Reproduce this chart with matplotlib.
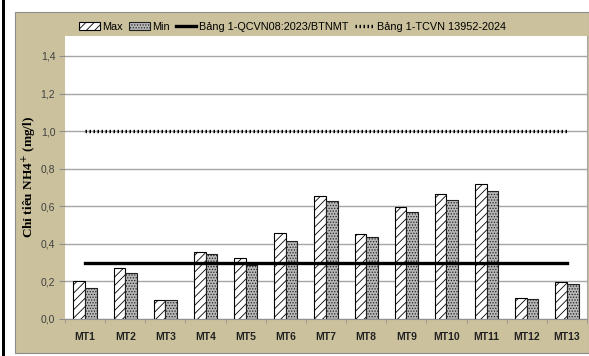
import numpy as np
import matplotlib.pyplot as plt
from matplotlib.patches import Rectangle
from matplotlib.lines import Line2D
from matplotlib.ticker import FuncFormatter

# số liệu NH4+ tại các điểm quan trắc
diem = ["MT1", "MT2", "MT3", "MT4", "MT5", "MT6", "MT7",
        "MT8", "MT9", "MT10", "MT11", "MT12", "MT13"]
gia_tri_max = [0.204, 0.270, 0.101, 0.354, 0.323, 0.455, 0.655,
               0.454, 0.596, 0.665, 0.717, 0.112, 0.199]
gia_tri_min = [0.167, 0.243, 0.101, 0.348, 0.288, 0.415, 0.628,
               0.438, 0.571, 0.632, 0.683, 0.106, 0.186]
qcvn08 = 0.3
tcvn13952 = 1.0

plt.rcParams['hatch.linewidth'] = 0.6
narrow = ['Liberation Sans Narrow', 'Liberation Sans', 'DejaVu Sans']

fig = plt.figure(figsize=(5.89, 3.56), dpi=100)

# nền và viền khung
fig.patches.append(Rectangle((15/589, 1 - 353/356), (589 - 15)/589, (353 - 12)/356,
                             transform=fig.transFigure, facecolor='#cbc29d',
                             edgecolor='#8c8c8c', lw=0.8, zorder=-10))
fig.patches.append(Rectangle((1.5/589, 0), 3.5/589, 1, transform=fig.transFigure,
                             facecolor='black', edgecolor='none', zorder=-10))

ax = fig.add_axes([65/589, 1 - 319/356, (587 - 65)/589, (319 - 36)/356])
ax.set_facecolor('white')

x = np.arange(len(diem))
w = 0.29
ax.bar(x - w/2, gia_tri_max, w, facecolor='white', edgecolor='black',
       hatch='////', lw=0.8, zorder=3)
ax.bar(x + w/2, gia_tri_min, w, facecolor='#b8b8b8', edgecolor='#202020',
       hatch='......', lw=0.8, zorder=3)
ax.plot(x, [qcvn08] * len(x), color='black', lw=2.4, zorder=4)
ax.plot(x, [tcvn13952] * len(x), color='black', lw=2.4, ls=(0, (0.45, 0.75)),
        dash_capstyle='butt', zorder=4)

ax.set_xlim(-0.5, len(diem) - 0.5)
ax.set_ylim(0, 1.506)
ax.set_yticks(np.arange(0, 1.41, 0.2))
ax.yaxis.set_major_formatter(FuncFormatter(lambda v, p: f"{v:.1f}".replace('.', ',')))
ax.grid(axis='y', color='#a6a6a6', lw=1.0, zorder=0)
ax.set_axisbelow(True)

ax.set_xticks(x)
ax.set_xticklabels(diem, fontsize=7.5, fontweight='bold', family=narrow, color='#222222')
ax.set_xticks(np.arange(-0.5, len(diem)), minor=True)
ax.tick_params(axis='x', which='major', length=0, pad=9)
ax.tick_params(axis='x', which='minor', length=3, color='#909090')
ax.tick_params(axis='y', length=4, color='#909090', labelsize=7.5,
               labelcolor='#404040', pad=3)
for lbl in ax.get_yticklabels():
    lbl.set_family(narrow)

for side in ['top', 'left']:
    ax.spines[side].set_visible(False)
ax.spines['bottom'].set_color('#909090')
ax.spines['right'].set_color('#a6a6a6')

ax.set_ylabel("Chỉ tiêu NH4$^{+}$ (mg/l)", family=['Liberation Serif', 'DejaVu Serif'],
              fontweight='bold', fontsize=9.5, labelpad=1)

handles = [
    Rectangle((0, 0), 1, 1, facecolor='white', edgecolor='black', hatch='////', lw=0.8),
    Rectangle((0, 0), 1, 1, facecolor='#b8b8b8', edgecolor='#202020', hatch='......', lw=0.8),
    Line2D([], [], color='black', lw=2.4),
    Line2D([], [], color='black', lw=2.4, ls=(0, (0.45, 0.75))),
]
labels = ["Max", "Min", "Bảng 1-QCVN08:2023/BTNMT", "Bảng 1-TCVN 13952-2024"]
fig.legend(handles, labels, loc='center', bbox_to_anchor=(0.497, 1 - 27/356), ncol=4,
           frameon=False, prop={'family': narrow, 'size': 7.8}, handlelength=1.9,
           handleheight=0.8, handletextpad=0.2, columnspacing=0.6, borderpad=0)

fig.savefig("out.png", dpi=100)
